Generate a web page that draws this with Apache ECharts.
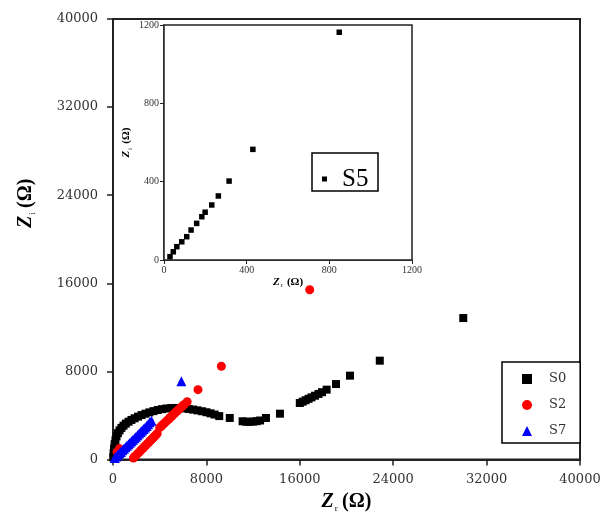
<!DOCTYPE html>
<html><head><meta charset="utf-8">
<script src="https://cdn.jsdelivr.net/npm/echarts@6/dist/echarts.min.js"></script>
<style>html,body{margin:0;padding:0;background:#fff}#c{width:609px;height:518px}</style>
</head><body><div id="c"></div>
<script>
// ---- data (Ω) ----
const mainTicks = [0, 8000, 16000, 24000, 32000, 40000];
const insetTicks = [0, 400, 800, 1200];

const s0Zr = [20,50,90,140,210,300,420,560,720,900,1100,1330,1580,1850,2140,2450,2780,3120,3470,3830,4200,4580,4960,5340,5720,6100,6480,6860,7240,7620,8000,8350,8700,9100,10000,11100,11400,11700,12000,12300,12600,13100,14300,16000,16250,16500,16750,17000,17300,17600,17900,18300,19100,20300,22850,30000];
const s0Zi = [200,600,1000,1400,1750,2100,2400,2650,2880,3080,3270,3440,3600,3750,3900,4040,4170,4290,4400,4500,4580,4640,4680,4690,4680,4650,4600,4540,4470,4390,4300,4200,4090,3950,3780,3480,3440,3430,3450,3490,3550,3780,4170,5140,5260,5390,5520,5650,5800,5960,6120,6350,6860,7620,8980,12850];

const s2Zr = [350,550,1750,1870,1990,2110,2230,2350,2470,2590,2710,2830,2950,3070,3190,3310,3430,3550,3670,3790,4000,4130,4260,4390,4520,4650,4780,4910,5040,5170,5300,5430,5560,5690,5820,5950,6100,6350,7280,9280,16850];
const s2Zi = [700,1000,150,280,400,540,660,800,930,1050,1190,1320,1450,1570,1710,1840,1960,2100,2230,2360,2900,3030,3160,3290,3420,3560,3690,3820,3950,4090,4220,4350,4480,4610,4740,4870,5000,5250,6350,8470,15420];

const s7Zr = [146,280,410,540,670,800,930,1060,1190,1320,1450,1580,1710,1840,1970,2100,2230,2360,2490,2620,2750,2880,3010,3140,3300,5855];
const s7Zi = [150,290,430,570,700,840,980,1110,1250,1390,1530,1660,1800,1940,2080,2220,2360,2500,2640,2780,2920,3060,3200,3400,3520,7105];

const s5Zr = [29,45,62,86,110,131,158,183,199,231,263,315,430,848];
const s5Zi = [17,42,68,93,119,153,187,221,244,281,327,403,565,1163];

const pairs = (a, b) => a.map((v, i) => [v, b[i]]);

const serif = 'Liberation Serif';
const tickFont = 'DejaVu Serif';
const plain = v => String(v);

function titleRich(big, subSize, subPad) {
  return {
    z: {fontFamily: serif, fontStyle: 'italic', fontWeight: 'bold', fontSize: big, color: '#000'},
    s: {fontFamily: serif, fontSize: subSize, color: '#000', padding: [subPad, 1, 0, 1]},
    o: {fontFamily: serif, fontWeight: 'bold', fontSize: big, color: '#000'}
  };
}

const chart = echarts.init(document.getElementById('c'), null, {renderer: 'canvas'});
chart.setOption({
  animation: false,
  backgroundColor: '#fff',
  grid: [
    {left: 113, right: 29, top: 19, bottom: 58, show: true, borderColor: '#222', borderWidth: 2, backgroundColor: 'transparent'},
    {left: 164, top: 25, width: 248, height: 235, show: true, borderColor: '#222', borderWidth: 1.5, backgroundColor: '#fff', z: 3}
  ],
  xAxis: [
    {gridIndex: 0, type: 'value', min: 0, max: 40000, interval: 8000,
     axisLine: {lineStyle: {color: '#222', width: 2}},
     axisTick: {inside: false, length: 6, lineStyle: {color: '#222', width: 1.5}},
     axisLabel: {margin: 14, fontFamily: tickFont, fontSize: 13, color: '#333', formatter: plain},
     splitLine: {show: false},
     name: '{z|Z}{s|r} {o|(Ω)}', nameLocation: 'middle', nameGap: 27,
     nameTextStyle: {rich: titleRich(20, 9, 14)}},
    {gridIndex: 1, type: 'value', min: 0, max: 1200, interval: 400,
     axisLine: {lineStyle: {color: '#222', width: 1.5}},
     axisTick: {inside: false, length: 4, lineStyle: {color: '#222', width: 1}},
     axisLabel: {margin: 5, fontFamily: serif, fontSize: 10, color: '#333', formatter: plain},
     splitLine: {show: false},
     name: '{z|Z}{s|r} {o|(Ω)}', nameLocation: 'middle', nameGap: 12,
     nameTextStyle: {rich: titleRich(11, 6, 8)}}
  ],
  yAxis: [
    {gridIndex: 0, type: 'value', min: 0, max: 40000, interval: 8000,
     axisLine: {lineStyle: {color: '#222', width: 2}},
     axisTick: {inside: false, length: 6, lineStyle: {color: '#222', width: 1.5}},
     axisLabel: {margin: 15, fontFamily: tickFont, fontSize: 13, color: '#333', formatter: plain},
     splitLine: {show: false},
     name: '{z|Z}{s|i} {o|(Ω)}', nameLocation: 'middle', nameRotate: 90, nameGap: 76,
     nameTextStyle: {padding: [0, 0, 0, 72], rich: titleRich(20, 9, 14)}},
    {gridIndex: 1, type: 'value', min: 0, max: 1200, interval: 400,
     axisLine: {lineStyle: {color: '#222', width: 1.5}},
     axisTick: {inside: false, length: 4, lineStyle: {color: '#222', width: 1}},
     axisLabel: {margin: 5, fontFamily: serif, fontSize: 10, color: '#333', formatter: plain},
     splitLine: {show: false},
     name: '{z|Z}{s|i} {o|(Ω)}', nameLocation: 'middle', nameRotate: 90, nameGap: 31,
     nameTextStyle: {rich: titleRich(11, 6, 8)}}
  ],
  legend: [
    {data: ['S0', 'S2', 'S7'], orient: 'vertical', left: 502, top: 362,
     padding: [10, 14, 5, 20], itemWidth: 10, itemHeight: 10, itemGap: 12,
     borderColor: '#000', borderWidth: 1.5, backgroundColor: '#fff',
     textStyle: {fontFamily: tickFont, fontSize: 13, lineHeight: 14, color: '#333', padding: [0, 0, 0, 12]}},
    {data: ['S5'], orient: 'vertical', left: 322, top: 161, padding: 0,
     itemWidth: 5, itemHeight: 5, z: 6,
     textStyle: {fontFamily: serif, fontSize: 25, lineHeight: 22, color: '#000', padding: [0, 0, 14, 10]}}
  ],
  graphic: [
    {type: 'rect', z: 5, shape: {x: 312, y: 153, width: 66, height: 38},
     style: {fill: '#fff', stroke: '#000', lineWidth: 1.5}}
  ],
  series: [
    {name: 'S0', type: 'scatter', xAxisIndex: 0, yAxisIndex: 0, symbol: 'rect', symbolSize: 8,
     itemStyle: {color: '#000', opacity: 1}, data: pairs(s0Zr, s0Zi)},
    {name: 'S2', type: 'scatter', xAxisIndex: 0, yAxisIndex: 0, symbol: 'circle', symbolSize: 9,
     itemStyle: {color: '#ff0000', opacity: 1}, data: pairs(s2Zr, s2Zi)},
    {name: 'S7', type: 'scatter', xAxisIndex: 0, yAxisIndex: 0, symbol: 'triangle', symbolSize: 10,
     itemStyle: {color: '#0000ff', opacity: 1}, data: pairs(s7Zr, s7Zi)},
    {name: 'S5', type: 'scatter', xAxisIndex: 1, yAxisIndex: 1, symbol: 'rect', symbolSize: 5.5, z: 4,
     itemStyle: {color: '#000', opacity: 1}, data: pairs(s5Zr, s5Zi)}
  ]
});
</script>
</body></html>
